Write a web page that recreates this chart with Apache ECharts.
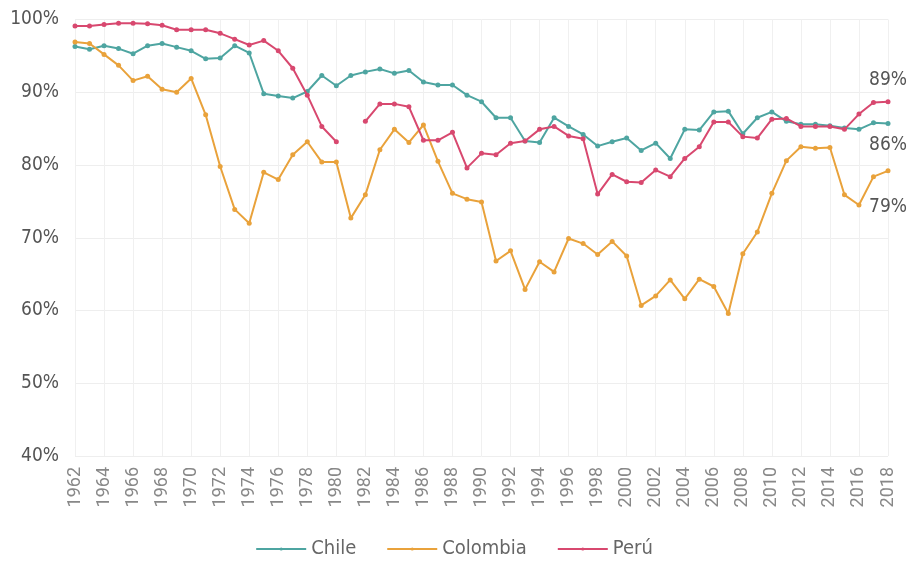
<!DOCTYPE html>
<html>
<head>
<meta charset="utf-8">
<script src="https://cdn.jsdelivr.net/npm/echarts@6/dist/echarts.min.js"></script>
<style>
  html, body { margin: 0; padding: 0; background: #fff; }
  #chart { width: 908px; height: 565px; }
</style>
</head>
<body>
<div id="chart"></div>
<script>
// Years 1962–2018
const years = [];
for (let y = 1962; y <= 2018; y++) years.push(String(y));

const chile = [96.3, 95.9, 96.4, 96.0, 95.3, 96.4, 96.7, 96.2, 95.7, 94.6,
  94.7, 96.4, 95.4, 89.8, 89.5, 89.2, 90.1, 92.3, 90.9, 92.3,
  92.8, 93.2, 92.6, 93.0, 91.4, 91.0, 91.0, 89.6, 88.7, 86.5,
  86.5, 83.3, 83.1, 86.5, 85.3, 84.2, 82.6, 83.2, 83.7, 82.0,
  83.0, 80.9, 84.9, 84.8, 87.3, 87.4, 84.3, 86.5, 87.3, 86.0,
  85.6, 85.6, 85.4, 85.1, 84.9, 85.8, 85.7];

const colombia = [96.9, 96.7, 95.2, 93.7, 91.6, 92.2, 90.4, 90.0, 91.9, 86.9,
  79.8, 73.9, 72.0, 79.0, 78.0, 81.4, 83.2, 80.4, 80.4, 72.7,
  75.9, 82.1, 84.9, 83.1, 85.5, 80.5, 76.1, 75.3, 74.9, 66.8,
  68.2, 62.9, 66.7, 65.3, 69.9, 69.2, 67.7, 69.5, 67.5, 60.7,
  62.0, 64.2, 61.6, 64.3, 63.3, 59.6, 67.8, 70.8, 76.1, 80.6,
  82.5, 82.3, 82.4, 75.9, 74.5, 78.4, 79.2];

const peru = [99.1, 99.1, 99.3, 99.5, 99.5, 99.4, 99.2, 98.6, 98.6, 98.6,
  98.1, 97.3, 96.5, 97.1, 95.7, 93.3, 89.6, 85.3, 83.2, null,
  86.0, 88.4, 88.4, 88.0, 83.4, 83.4, 84.5, 79.6, 81.6, 81.4,
  83.0, 83.3, 84.9, 85.3, 84.0, 83.6, 76.0, 78.7, 77.7, 77.6,
  79.3, 78.4, 80.9, 82.5, 85.9, 85.9, 83.9, 83.7, 86.3, 86.4,
  85.3, 85.3, 85.3, 84.9, 87.0, 88.6, 88.7];

const seriesNames = ['Chile', 'Colombia', 'Perú'];
const seriesColors = ['#4ea5a1', '#e9a23b', '#d8486f'];

const FONT = "'Liberation Sans Narrow', 'DejaVu Sans Condensed', 'Roboto', sans-serif";

// Final value label: above for Perú, below for the others
function withEndLabel(values, position, distance) {
  return values.map((v, i) => {
    if (i !== values.length - 1) return v;
    return {
      value: v,
      label: {
        show: true,
        position: position,
        distance: distance,
        formatter: p => Math.round(p.value) + '%',
        color: '#555',
        fontSize: 19,
        fontFamily: FONT
      }
    };
  });
}

const seriesData = [
  withEndLabel(chile, 'bottom', 10),
  withEndLabel(colombia, 'bottom', 24),
  withEndLabel(peru, 'top', 10)
];

const chart = echarts.init(document.getElementById('chart'), null, { renderer: 'canvas' });

chart.setOption({
  animation: false,
  backgroundColor: '#fff',
  color: seriesColors,
  textStyle: { fontFamily: FONT },
  grid: { left: 75, right: 20, top: 19.5, bottom: 109, containLabel: false },
  legend: {
    bottom: 1,
    left: 'center',
    itemWidth: 50,
    itemHeight: 4,
    itemGap: 30,
    textStyle: { color: '#666', fontSize: 20, fontFamily: FONT },
    data: seriesNames
  },
  xAxis: {
    type: 'category',
    data: years,
    boundaryGap: false,
    axisLine: { show: false },
    axisTick: { show: false },
    axisLabel: {
      show: true,
      interval: 1,
      rotate: 90,
      hideOverlap: false,
      color: '#888',
      fontSize: 18,
      margin: 11,
      fontFamily: "'Roboto', 'Open Sans', sans-serif"
    },
    splitLine: { show: true, interval: 1, lineStyle: { color: '#f0f0f0', width: 1 } }
  },
  yAxis: {
    type: 'value',
    min: 40,
    max: 100,
    interval: 10,
    axisLine: { show: false },
    axisTick: { show: false },
    axisLabel: {
      formatter: '{value}%',
      color: '#555',
      fontSize: 19,
      margin: 16,
      fontFamily: FONT
    },
    splitLine: { lineStyle: { color: '#eeeeee', width: 1 } }
  },
  series: seriesNames.map((name, i) => ({
    name: name,
    type: 'line',
    data: seriesData[i],
    connectNulls: false,
    symbol: 'circle',
    symbolSize: 5,
    lineStyle: { width: 2 },
    itemStyle: { color: seriesColors[i] },
    z: i === 2 ? 3 : 2
  }))
});
</script>
</body>
</html>
